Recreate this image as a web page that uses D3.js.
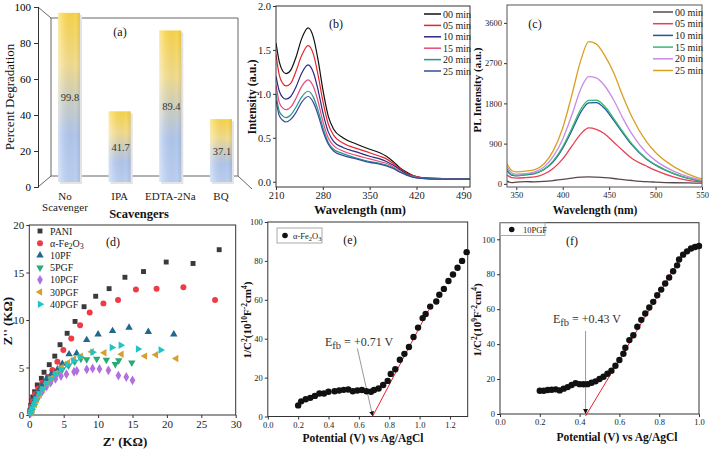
<!DOCTYPE html>
<html><head><meta charset="utf-8">
<script src="https://cdn.jsdelivr.net/npm/d3@7"></script>
<style>body{margin:0;background:#fff}svg{display:block}text{font-family:"Liberation Serif","Times New Roman",serif}</style>
</head><body><svg id="c" width="709" height="452"></svg>
<script>
// ---------- DATA ----------
// (a) scavenger test
const scavengers = ["No Scavenger","IPA","EDTA-2Na","BQ"];
const degradation = [99.8,41.7,89.4,37.1];
const ticksA = [0,20,40,60,80,100];
// (b) UV-vis spectra
const uvTimes = ["00 min","05 min","10 min","15 min","20 min","25 min"];
const uvColors = ["#111111","#e8262a","#2b2a80","#e84a7a","#20998a","#3a4a9a"];
const uvWl = [210,215,220,225,232,240,248,258,266,273,280,288,296,310,330,350,365,375,385,395,405,415,425,440,470,500];
const uv00 = [1.58,1.36,1.26,1.23,1.27,1.42,1.62,1.75,1.64,1.38,1.05,0.75,0.60,0.50,0.43,0.37,0.33,0.29,0.23,0.16,0.11,0.07,0.05,0.04,0.035,0.03];
const uv05 = [1.45,1.21,1.12,1.09,1.12,1.26,1.43,1.55,1.45,1.21,0.92,0.66,0.53,0.44,0.38,0.33,0.29,0.26,0.21,0.15,0.10,0.07,0.05,0.04,0.035,0.03];
const uv10 = [1.20,1.03,0.96,0.94,0.97,1.08,1.23,1.33,1.24,1.04,0.79,0.57,0.46,0.39,0.34,0.29,0.26,0.23,0.19,0.14,0.09,0.06,0.045,0.035,0.03,0.03];
const uv15 = [1.10,0.90,0.84,0.82,0.85,0.95,1.08,1.16,1.08,0.91,0.69,0.50,0.41,0.35,0.30,0.26,0.23,0.21,0.17,0.12,0.08,0.06,0.045,0.035,0.03,0.03];
const uv20 = [1.00,0.80,0.75,0.73,0.76,0.85,0.96,1.03,0.96,0.81,0.62,0.45,0.37,0.32,0.27,0.23,0.21,0.19,0.16,0.11,0.08,0.055,0.04,0.035,0.03,0.03];
const uv25 = [0.93,0.75,0.70,0.68,0.71,0.79,0.90,0.97,0.90,0.76,0.58,0.43,0.35,0.30,0.26,0.22,0.20,0.18,0.15,0.11,0.075,0.05,0.04,0.03,0.03,0.03];
const ticksBx = [210,280,350,420,490];
const ticksBy = [0,0.5,1.0,1.5,2.0];
// (c) PL spectra
const plColors = ["#5a4848","#e84050","#1e5a96","#3cb878","#c88ae8","#d9a020"];
const plWl = [340,345,350,360,370,380,390,400,410,420,428,436,445,455,465,475,490,500,520,535,550];
const pl00 = [60,30,40,50,45,55,75,100,130,150,155,150,140,120,95,75,50,40,25,20,15];
const pl05 = [200,140,130,140,155,220,350,560,850,1130,1250,1220,1120,930,740,560,400,300,150,80,40];
const pl10 = [300,195,180,200,230,320,500,800,1200,1620,1810,1815,1690,1420,1130,860,555,415,222,122,62];
const pl15 = [330,210,190,210,240,330,520,830,1250,1690,1865,1870,1740,1460,1160,885,570,430,230,128,68];
const pl20 = [380,250,220,230,270,380,620,1000,1550,2150,2400,2370,2200,1870,1460,1100,700,520,280,160,80];
const pl25 = [450,300,270,285,320,450,750,1250,2000,2800,3180,3130,2880,2480,1950,1480,950,700,380,220,110];
const ticksCx = [350,400,450,500,550];
const ticksCy = [0,900,1800,2700,3600];
// (d) Nyquist plots  [Z', Z'']
const nyNames = ["PANI","α-Fe2O3","10PF","5PGF","10PGF","30PGF","40PGF"];
const nyColors = ["#3a3a3a","#f03a46","#1f6a8c","#2aa878","#b070e0","#d4a030","#20c4c4"];
const nyPANI = [[0.1,0.5],[0.2,1.0],[0.35,1.5],[0.5,1.9],[0.77,2.45],[1.16,3.16],[1.75,3.86],[2.14,4.5],[2.9,5.3],[3.7,6.2],[4.47,7.4],[5.5,8.6],[6.65,9.85],[7.96,11.4],[9.65,12.5],[11.6,13.3],[13.9,14.5],[16.6,15.1],[19.9,16.1],[23.8,15.95],[27.6,17.4]];
const nyFe = [[0.1,0.4],[0.25,0.9],[0.5,1.5],[0.85,2.2],[1.3,2.8],[1.9,3.4],[2.7,4.0],[3.35,4.75],[4.08,5.6],[4.95,6.85],[6.1,8.05],[7.38,9.45],[8.78,10.8],[10.77,11.75],[12.9,12.1],[15.5,13.2],[18.5,13.3],[22.4,13.45],[27.0,12.1]];
const ny10PF = [[0.15,0.3],[0.35,0.8],[0.6,1.3],[0.9,1.9],[1.3,2.5],[1.8,3.1],[2.5,3.8],[3.2,4.3],[4.1,4.8],[4.8,5.4],[5.78,6.4],[6.88,6.5],[8.34,7.9],[10,8.5],[12.1,8.85],[14.5,9.2],[17.3,8.75],[21,8.5]];
const ny5PGF = [[0.2,0.3],[0.4,0.7],[0.7,1.2],[1.0,1.7],[1.5,2.3],[2.0,2.8],[2.6,3.3],[3.3,3.8],[4.0,4.3],[4.8,4.8],[5.7,5.2],[6.6,5.6],[7.5,5.9],[8.34,5.85],[9.8,5.9],[11.2,5.8],[12.5,5.35],[13.0,5.75],[14.9,5.5]];
const ny10PGF = [[0.2,0.2],[0.4,0.6],[0.7,1.1],[1.0,1.5],[1.4,2.0],[1.9,2.5],[2.5,3.0],[3.1,3.4],[3.8,3.8],[4.6,4.1],[5.4,4.3],[6.5,4.55],[6.9,4.65],[8.35,4.8],[9.2,4.9],[10.2,4.85],[11.5,4.7],[12.95,4.15],[14.1,4.0],[15.0,3.65]];
const ny30PGF = [[0.3,0.2],[0.5,0.6],[0.8,1.1],[1.1,1.6],[1.5,2.1],[2.0,2.7],[2.6,3.3],[3.2,3.9],[3.9,4.4],[4.7,5.0],[5.6,5.5],[6.5,5.9],[7.5,6.2],[9.07,6.65],[10.9,6.55],[13.4,6.4],[16.8,6.2],[18.4,6.35],[21.35,5.95]];
const ny40PGF = [[0.2,0.2],[0.4,0.6],[0.7,1.1],[1.0,1.6],[1.4,2.2],[1.9,2.7],[2.5,3.3],[3.1,3.8],[3.8,4.3],[4.6,4.8],[5.5,5.3],[6.4,5.7],[7.4,6.1],[9.2,6.6],[12.0,7.1],[13.3,7.35],[15.8,6.95],[19.1,6.85]];
const ticksDx = [0,5,10,15,20,25,30];
const ticksDy = [0,5,10,15,20];
// (e) Mott-Schottky alpha-Fe2O3
const eV = [0.20,0.22,0.25,0.28,0.31,0.34,0.37,0.40,0.44,0.47,0.50,0.53,0.56,0.59,0.62,0.65,0.68,0.70,0.73,0.76,0.79,0.81,0.84,0.87,0.90,0.93,0.96,0.99,1.02,1.04,1.07,1.11,1.13,1.16,1.19,1.22,1.25,1.28,1.31];
const eC = [5.7,7.8,8.9,9.6,10.6,11.8,11.8,12.7,13.0,13.4,13.7,13.9,13.0,13.4,13.6,13.0,12.7,13.6,14.4,16.2,18.3,21.9,24.3,29.2,32.2,35.7,40.9,45.7,50.6,52.7,56.5,59.1,62.6,65.6,69.7,73.0,76.5,80.0,84.5];
const eFitV = [0.69,1.06];
const eFitC = [0,54.8];
const eArrowV = [0.59,0.69];
const eArrowC = [35,0.5];
const eNote = "+0.71 V";
const ticksEx = [0,0.2,0.4,0.6,0.8,1.0,1.2];
const ticksEy = [0,20,40,60,80,100];
// (f) Mott-Schottky 10PGF
const fV = [0.20,0.22,0.24,0.26,0.28,0.30,0.32,0.34,0.36,0.38,0.40,0.42,0.44,0.46,0.48,0.50,0.52,0.54,0.56,0.58,0.60,0.62,0.63,0.65,0.67,0.69,0.71,0.73,0.75,0.77,0.79,0.81,0.83,0.85,0.87,0.89,0.90,0.92,0.94,0.96,0.98,1.00];
const fC = [13.3,13.3,13.7,13.9,14.1,13.5,14.5,15.4,16.6,17.7,17.1,17.0,17.1,17.9,18.7,20.0,21.3,23.0,24.8,27.6,30.9,34.5,37.9,42.3,45.1,49.9,53.9,57.5,61.0,64.2,68.0,71.2,74.7,78.1,81.7,85.1,88.4,91.2,93.1,94.7,95.6,96.2];
const fFitV = [0.43,0.91];
const fFitC = [0,89.9];
const fArrowV = [0.43,0.43];
const fArrowC = [47.5,0.5];
const fNote = "+0.43 V";
const ticksFx = [0,0.2,0.4,0.6,0.8,1.0];
const ticksFy = [0,20,40,60,80,100];

// ---------- DRAWING ----------
const svg = d3.select("#c");
const defs = svg.append("defs");
const SERIF = '"Liberation Serif","Times New Roman",serif';

function styleAxis(sel, size){
  sel.attr("font-family", SERIF).attr("font-size", size);
  sel.select(".domain").remove();
  sel.selectAll(".tick line").attr("stroke","#333");
  sel.selectAll(".tick text").attr("fill","#222");
}
function axes(g, x, y, xt, yt, opt){
  const [x0,x1] = x.range(), [y0,y1] = y.range();
  g.append("g").attr("transform",`translate(0,${y0})`)
    .call(d3.axisBottom(x).tickValues(xt).tickSize(3).tickPadding(2).tickFormat(opt.xf||null))
    .call(s=>styleAxis(s,opt.size));
  g.append("g").attr("transform",`translate(${x0},0)`)
    .call(d3.axisLeft(y).tickValues(yt).tickSize(3).tickPadding(2).tickFormat(opt.yf||null))
    .call(s=>styleAxis(s,opt.size));
  g.append("rect").attr("x",x0).attr("y",y1).attr("width",x1-x0).attr("height",y0-y1)
    .attr("fill","none").attr("stroke",opt.frame||"#333").attr("stroke-width",1);
}
function clip(id, x, y){
  const [x0,x1] = x.range(), [y0,y1] = y.range();
  defs.append("clipPath").attr("id",id).append("rect").attr("x",x0).attr("y",y1).attr("width",x1-x0).attr("height",y0-y1);
  return `url(#${id})`;
}
function label(g, txt, x, y, size, bold, rot){
  const t = g.append("text").attr("x",x).attr("y",y).attr("text-anchor","middle")
    .attr("font-size",size).attr("font-weight",bold?"bold":"normal").attr("fill","#111").text(txt);
  if(rot) t.attr("transform",`rotate(-90,${x},${y})`);
  return t;
}

// ===== (a) =====
{
  const g = svg.append("g");
  const yA = d3.scaleLinear().domain([0,100]).range([187,7]);
  const yBar = d3.scaleLinear().domain([0,100]).range([182,12.5]);
  const xBar = d3.scaleBand().domain(scavengers).range([43.7,246.3]);
  const grad = defs.append("linearGradient").attr("id","barGrad").attr("x1",0).attr("y1",0).attr("x2",0).attr("y2",1);
  [[0,"#f8d44a"],[0.3,"#f2dc8e"],[0.52,"#cdcfc4"],[0.72,"#b0c6ec"],[1,"#bcd0f2"]].forEach(s=>grad.append("stop").attr("offset",s[0]).attr("stop-color",s[1]));
  const hg = defs.append("linearGradient").attr("id","barHi").attr("x1",0).attr("y1",0).attr("x2",1).attr("y2",0);
  [[0,"#fff",0.45],[0.25,"#fff",0.1],[0.8,"#000",0],[1,"#000",0.08]].forEach(s=>hg.append("stop").attr("offset",s[0]).attr("stop-color",s[1]).attr("stop-opacity",s[2]));
  const b = yA.range();
  g.append("path").attr("fill","none").attr("stroke","#666").attr("stroke-width",1)
    .attr("d",`M38,${b[1]} L51,18 L238,18 L238,176 L51,176 L51,18 M38,${b[0]} L51,176 M238,176 L252,189`);
  g.append("g").attr("transform","translate(38,0)")
    .call(d3.axisLeft(yA).tickValues(ticksA).tickSize(4).tickPadding(3))
    .call(s=>{s.attr("font-family",SERIF).attr("font-size",11); s.select(".domain").attr("stroke","#333"); s.selectAll(".tick line").attr("stroke","#333");});
  const bw = 22;
  scavengers.forEach((c,i)=>{
    const cx = xBar(c)+xBar.bandwidth()/2, v = degradation[i];
    g.append("rect").attr("x",cx-bw/2+2).attr("y",yBar(v)+2).attr("width",bw).attr("height",yBar(0)-yBar(v)).attr("fill","#e4e4e4");
    g.append("rect").attr("x",cx-bw/2).attr("y",yBar(v)).attr("width",bw).attr("height",yBar(0)-yBar(v)).attr("fill","url(#barGrad)");
    g.append("rect").attr("x",cx-bw/2).attr("y",yBar(v)).attr("width",bw).attr("height",yBar(0)-yBar(v)).attr("fill","url(#barHi)");
    g.append("text").attr("x",cx+1).attr("y",(yBar(v)+yBar(0))/2+4).attr("text-anchor","middle").attr("font-size",10.5).attr("fill","#333").text(v.toFixed(1));
    const words = c === "No Scavenger" ? ["No","Scavenger"] : [c];
    words.forEach((w,j)=>g.append("text").attr("x",cx-(c==="No Scavenger"?4:0)).attr("y",200+j*11).attr("text-anchor","middle").attr("font-size",11).attr("fill","#222").text(w));
  });
  label(g,"(a)",120,36,12,false);
  label(g,"Scavengers",139,218,12.5,true);
  label(g,"Percent Degradation",14,97,13,false,true);
}

// ===== (b) =====
{
  const g = svg.append("g");
  const x = d3.scaleLinear().domain([210,500]).range([276,470]);
  const y = d3.scaleLinear().domain([-0.06,2.0]).range([187,6]);
  const cp = clip("clipB",x,y);
  const series = [uv00,uv05,uv10,uv15,uv20,uv25];
  const line = d3.line().x((d,i)=>x(uvWl[i])).y(d=>y(d)).curve(d3.curveMonotoneX);
  series.forEach((s,k)=>g.append("path").attr("clip-path",cp).attr("d",line(s)).attr("fill","none").attr("stroke",uvColors[k]).attr("stroke-width",1.2));
  axes(g,x,y,ticksBx,ticksBy,{size:10.5,yf:d3.format(".1f")});
  uvTimes.forEach((t,k)=>{
    const yy = 14 + k*11.4;
    g.append("line").attr("x1",424).attr("x2",441).attr("y1",yy).attr("y2",yy).attr("stroke",uvColors[k]).attr("stroke-width",1.5);
    g.append("text").attr("x",443).attr("y",yy+3.5).attr("font-size",10).attr("fill","#222").text(t);
  });
  label(g,"(b)",336,28,12,false);
  label(g,"Wavelength (nm)",360,214,12.5,true);
  label(g,"Intensity (a.u.)",256,97,12,true,true);
}

// ===== (c) =====
{
  const g = svg.append("g");
  const x = d3.scaleLinear().domain([340,550]).range([507,702]);
  const y = d3.scaleLinear().domain([-70,4000]).range([187,5]);
  const cp = clip("clipC",x,y);
  const series = [pl00,pl05,pl10,pl15,pl20,pl25];
  const line = d3.line().x((d,i)=>x(plWl[i])).y(d=>y(d)).curve(d3.curveMonotoneX);
  series.forEach((s,k)=>g.append("path").attr("clip-path",cp).attr("d",line(s)).attr("fill","none").attr("stroke",plColors[k]).attr("stroke-width",1.3));
  axes(g,x,y,ticksCx,ticksCy,{size:8.5,frame:"#555",yf:d3.format("d")});
  uvTimes.forEach((t,k)=>{
    const yy = 12 + k*11.7;
    g.append("line").attr("x1",653).attr("x2",673).attr("y1",yy).attr("y2",yy).attr("stroke",plColors[k]).attr("stroke-width",1.5);
    g.append("text").attr("x",675).attr("y",yy+3.5).attr("font-size",10).attr("fill","#222").text(t);
  });
  label(g,"(c)",535,28,12,false);
  label(g,"Wavelength (nm)",595,214,11.5,true);
  label(g,"PL Intensity (a.u.)",481,90,11,true,true);
}

// ===== (d) =====
{
  const g = svg.append("g");
  const x = d3.scaleLinear().domain([0,30]).range([29.3,235.7]);
  const y = d3.scaleLinear().domain([0,20]).range([415,225]);
  const sets = [nyPANI,nyFe,ny10PF,ny5PGF,ny10PGF,ny30PGF,ny40PGF];
  const sym = [[d3.symbolSquare,0,24],[d3.symbolCircle,0,28],[d3.symbolTriangle,0,24],[d3.symbolTriangle,180,24],[d3.symbolDiamond,0,28],[d3.symbolTriangle,-90,24],[d3.symbolTriangle,90,24]];
  axes(g,x,y,ticksDx,ticksDy,{size:11});
  sets.forEach((s,k)=>{
    const p = d3.symbol().type(sym[k][0]).size(sym[k][2])();
    g.append("g").selectAll("path").data(s).join("path").attr("d",p)
      .attr("transform",d=>`translate(${x(d[0])},${y(d[1])}) rotate(${sym[k][1]})`).attr("fill",nyColors[k]);
  });
  nyNames.forEach((n,k)=>{
    const yy = 231 + k*12.2;
    g.append("path").attr("d",d3.symbol().type(sym[k][0]).size(sym[k][2])()).attr("transform",`translate(40,${yy}) rotate(${sym[k][1]})`).attr("fill",nyColors[k]);
    const t = g.append("text").attr("x",50).attr("y",yy+3.5).attr("font-size",10).attr("fill","#222");
    if(n==="α-Fe2O3"){ t.append("tspan").text("α-Fe"); t.append("tspan").attr("dy",2.5).attr("font-size",8).text("2"); t.append("tspan").attr("dy",-2.5).text("O"); t.append("tspan").attr("dy",2.5).attr("font-size",8).text("3"); }
    else t.text(n);
  });
  label(g,"(d)",113,246,12,false);
  label(g,"Z' (KΩ)",125,446,13,true);
  label(g,"Z'' (KΩ)",12,321,13,true,true);
}

function msLabel(g, x, y, exp){
  const t = g.append("text").attr("x",x).attr("y",y).attr("text-anchor","middle").attr("font-size",11).attr("font-weight","bold").attr("fill","#111")
    .attr("transform",`rotate(-90,${x},${y})`);
  t.append("tspan").text("1/C");
  t.append("tspan").attr("dy",-4).attr("font-size",7.5).text("2");
  t.append("tspan").attr("dy",4).text("(10");
  t.append("tspan").attr("dy",-4).attr("font-size",7.5).text(exp);
  t.append("tspan").attr("dy",4).text("F");
  t.append("tspan").attr("dy",-4).attr("font-size",7.5).text("-2");
  t.append("tspan").attr("dy",4).text("cm");
  t.append("tspan").attr("dy",-4).attr("font-size",7.5).text("4");
  t.append("tspan").attr("dy",4).text(")");
}
function efb(g, x, y, note){
  const t = g.append("text").attr("x",x).attr("y",y).attr("font-size",12).attr("fill","#333");
  t.append("tspan").text("E");
  t.append("tspan").attr("dy",3).attr("font-size",10.5).text("fb");
  t.append("tspan").attr("dy",-3).text(" = " + note);
}
defs.append("marker").attr("id","arr").attr("viewBox","0 0 6 6").attr("refX",5).attr("refY",3).attr("markerWidth",5).attr("markerHeight",5).attr("orient","auto")
  .append("path").attr("d","M0,0 L6,3 L0,6 Z").attr("fill","#111");

// ===== (e) =====
{
  const g = svg.append("g");
  const x = d3.scaleLinear().domain([0,1.317]).range([267.8,467.7]);
  const y = d3.scaleLinear().domain([0,100]).range([416.5,222]);
  axes(g,x,y,ticksEx,ticksEy,{size:8.5,xf:d3.format(".1f")});
  g.append("line").attr("x1",x(eFitV[0])).attr("y1",y(eFitC[0])).attr("x2",x(eFitV[1])).attr("y2",y(eFitC[1])).attr("stroke","#e8202a").attr("stroke-width",1);
  g.append("line").attr("x1",x(eArrowV[0])).attr("y1",y(eArrowC[0])).attr("x2",x(eArrowV[1])).attr("y2",y(eArrowC[1])).attr("stroke","#999").attr("stroke-width",1).attr("marker-end","url(#arr)");
  g.append("g").selectAll("circle").data(eV).join("circle").attr("cx",d=>x(d)).attr("cy",(d,i)=>y(eC[i])).attr("r",3.2).attr("fill","#111");
  efb(g, x(0.377), y(36.2), eNote);
  g.append("rect").attr("x",277).attr("y",228).attr("width",45).attr("height",15).attr("fill","#fff").attr("stroke","#aaa");
  g.append("circle").attr("cx",285).attr("cy",235.5).attr("r",2.8).attr("fill","#111");
  const t = g.append("text").attr("x",293).attr("y",238.5).attr("font-size",8.5).attr("fill","#222");
  t.append("tspan").text("α-Fe"); t.append("tspan").attr("dy",2).attr("font-size",6.5).text("2"); t.append("tspan").attr("dy",-2).text("O"); t.append("tspan").attr("dy",2).attr("font-size",6.5).text("3");
  label(g,"(e)",350,244,12,false);
  label(g,"Potential (V) vs Ag/AgCl",363,442,11.5,true);
  msLabel(g,251,320,"10");
}

// ===== (f) =====
{
  const g = svg.append("g");
  const x = d3.scaleLinear().domain([0,1]).range([500,699]);
  const y = d3.scaleLinear().domain([0,109.5]).range([414,222.7]);
  axes(g,x,y,ticksFx,ticksFy,{size:8.5,xf:d3.format(".1f")});
  g.append("line").attr("x1",x(fFitV[0])).attr("y1",y(fFitC[0])+2).attr("x2",x(fFitV[1])).attr("y2",y(fFitC[1])).attr("stroke","#e8202a").attr("stroke-width",1);
  g.append("line").attr("x1",x(fArrowV[0])).attr("y1",y(fArrowC[0])).attr("x2",x(fArrowV[1])).attr("y2",y(fArrowC[1])).attr("stroke","#999").attr("stroke-width",1).attr("marker-end","url(#arr)");
  g.append("g").selectAll("circle").data(fV).join("circle").attr("cx",d=>x(d)).attr("cy",(d,i)=>y(fC[i])).attr("r",3.2).attr("fill","#111");
  efb(g, x(0.266), y(52), fNote);
  g.append("rect").attr("x",500.5).attr("y",223).attr("width",44.5).attr("height",12.5).attr("fill","#fff").attr("stroke","#aaa");
  g.append("circle").attr("cx",511.7).attr("cy",229.5).attr("r",2.8).attr("fill","#111");
  g.append("text").attr("x",523).attr("y",232.5).attr("font-size",8.5).attr("fill","#222").text("10PGF");
  label(g,"(f)",572,245,12,false);
  label(g,"Potential (V) vs Ag/AgCl",617,441,11.5,true);
  msLabel(g,481,320,"9");
}
</script></body></html>
